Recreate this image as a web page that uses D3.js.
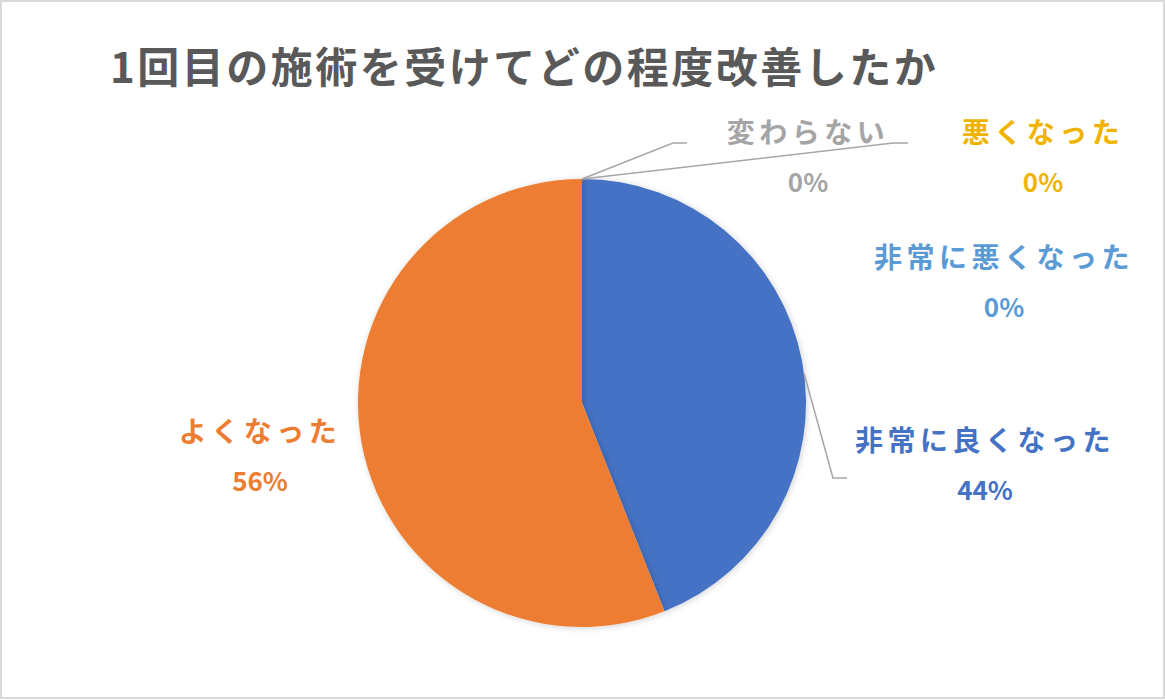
<!DOCTYPE html>
<html>
<head>
<meta charset="utf-8">
<script src="https://cdn.jsdelivr.net/npm/d3@7"></script>
<style>
  html, body { margin: 0; padding: 0; background: #fff; }
  text { font-family: "Noto Sans CJK JP", "Noto Sans", sans-serif; font-weight: bold; }
</style>
</head>
<body>
<div id="chart"></div>
<script>
let categories = ["非常に良くなった", "よくなった", "変わらない", "悪くなった", "非常に悪くなった"];
let values = [44, 56, 0, 0, 0];
let percentLabels = ["44%", "56%", "0%", "0%", "0%"];
let colors = ["#4472C4", "#ED7D31", "#A5A5A5", "#FFC000", "#5B9BD5"];
let labelColors = ["#4472C4", "#ED7D31", "#A5A5A5", "#F0B400", "#5B9BD5"];

let width = 1165, height = 700;
let cx = 582, cy = 403, radius = 224;

// label anchor (centre of first line) for each slice
let labelPos = [[985, 441], [260, 432], [808, 133], [1043, 133], [1004, 258]];
// leader line elbows (only slices that have one)
let leaders = {0: [[833, 478], [847, 478]], 2: [[673, 143], [687, 143]], 3: [[893, 143], [908, 143]]};

let svg = d3.select("#chart").append("svg")
    .attr("width", width)
    .attr("height", height);

svg.append("rect")
    .attr("x", 1).attr("y", 1)
    .attr("width", width - 2).attr("height", height - 3)
    .attr("fill", "#fff")
    .attr("stroke", "#D9D9D9")
    .attr("stroke-width", 2);

let defs = svg.append("defs");
let filter = defs.append("filter").attr("id", "shadow")
    .attr("x", "-10%").attr("y", "-10%").attr("width", "120%").attr("height", "120%");
filter.append("feDropShadow")
    .attr("dx", 1).attr("dy", 1).attr("stdDeviation", 3)
    .attr("flood-color", "#000").attr("flood-opacity", 0.18);

svg.append("text")
    .attr("x", 110).attr("y", 83)
    .attr("font-size", 42)
    .attr("letter-spacing", 2.5)
    .attr("fill", "#595959")
    .text("1回目の施術を受けてどの程度改善したか");

let pie = d3.pie().sort(null).value(d => d);
let arcs = pie(values);
let arc = d3.arc().innerRadius(0).outerRadius(radius);

let g = svg.append("g").attr("transform", "translate(" + cx + "," + cy + ")");

g.selectAll("path")
    .data(arcs)
    .enter()
    .append("path")
    .attr("d", arc)
    .attr("fill", (d, i) => colors[i])
    .attr("filter", "url(#shadow)");

// leader lines start from the slice edge
Object.keys(leaders).forEach(k => {
    let i = +k;
    let a = arcs[i];
    let mid = (a.startAngle + a.endAngle) / 2;
    if (i === 0) {
        // Excel attaches this one a bit above the slice midpoint
        mid = Math.PI * 0.458;
    }
    let sx = cx + Math.sin(mid) * radius;
    let sy = cy - Math.cos(mid) * radius;
    let pts = [[sx, sy]].concat(leaders[k]);
    svg.append("path")
        .attr("d", d3.line()(pts))
        .attr("fill", "none")
        .attr("stroke", "#A6A6A6")
        .attr("stroke-width", 1.5);
});

let labels = svg.selectAll("g.lbl")
    .data(categories)
    .enter()
    .append("g")
    .attr("class", "lbl")
    .attr("transform", (d, i) => "translate(" + labelPos[i][0] + "," + labelPos[i][1] + ")");

labels.append("text")
    .attr("text-anchor", "middle")
    .attr("dy", "0.35em")
    .attr("font-size", 28)
    .attr("letter-spacing", 4.5)
    .attr("fill", (d, i) => labelColors[i])
    .text(d => d);

labels.append("text")
    .attr("text-anchor", "middle")
    .attr("y", 50)
    .attr("dy", "0.35em")
    .attr("font-size", 26)
    .attr("fill", (d, i) => labelColors[i])
    .text((d, i) => percentLabels[i]);
</script>
</body>
</html>
